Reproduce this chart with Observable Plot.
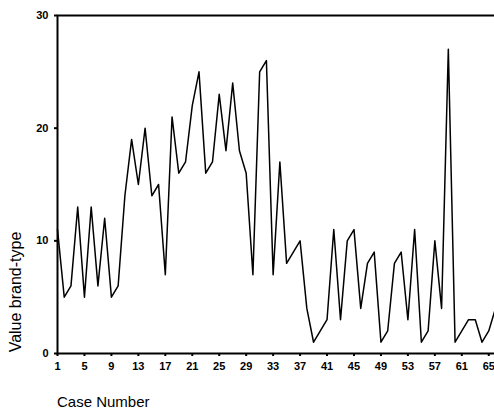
<!DOCTYPE html>
<html>
<head>
<meta charset="utf-8">
<script src="https://cdn.jsdelivr.net/npm/d3@7"></script>
<script src="https://cdn.jsdelivr.net/npm/@observablehq/plot@0.6"></script>
<style>
  html, body { margin: 0; padding: 0; background: #fff; }
  #wrap { position: relative; width: 494px; height: 412px; overflow: hidden; font-family: "Liberation Sans", Arial, sans-serif; }
  #wrap svg { overflow: hidden; }
  #ylab { position: absolute; left: 16px; top: 292px; transform: translate(-50%, -50%) rotate(-90deg); font-size: 16px; white-space: nowrap; color: #000; }
  #xlab { position: absolute; left: 57px; top: 394px; font-size: 15px; color: #000; line-height: 1; }
</style>
</head>
<body>
<div id="wrap"><div id="chart"></div><div id="ylab">Value brand-type</div><div id="xlab">Case Number</div></div>
<script>
const caseNumbers = d3.range(1, 67);
const brandType = [11,5,6,13,5,13,6,12,5,6,
                   14,19,15,20,14,15,7,21,16,17,
                   22,25,16,17,23,18,24,18,16,7,
                   25,26,7,17,8,9,10,4,1,2,
                   3,11,3,10,11,4,8,9,1,2,
                   8,9,3,11,1,2,10,4,27,1,
                   2,3,3,1,2,4];
const xTicks = [1,5,9,13,17,21,25,29,33,37,41,45,49,53,57,61,65];
const yTicks = [0,10,20,30];

const data = caseNumbers.map((c, i) => ({case: c, value: brandType[i]}));

const chart = Plot.plot({
  width: 494,
  height: 380,
  marginLeft: 57,
  marginRight: -1,
  marginTop: 15,
  marginBottom: 27,
  style: {fontFamily: "'Liberation Sans', Arial, sans-serif", fontSize: "11px", fontWeight: "bold", color: "#000", background: "#fff", overflow: "hidden"},
  x: {domain: [1, 66], ticks: xTicks, tickSize: 3, tickPadding: 6, label: null, tickFormat: d => d},
  y: {domain: [0, 30], ticks: yTicks, tickSize: 3, tickPadding: 6, label: null},
  marks: [
    Plot.frame({stroke: "#000", strokeWidth: 2}),
    Plot.line(data, {x: "case", y: "value", stroke: "#000", strokeWidth: 1.5}),
    Plot.axisX({ticks: xTicks, tickSize: 3, tickPadding: 6, strokeWidth: 2, label: null, tickFormat: d => d}),
    Plot.axisY({ticks: yTicks, tickSize: 3, tickPadding: 6, strokeWidth: 2, label: null})
  ]
});
document.getElementById("chart").appendChild(chart);
</script>
</body>
</html>
